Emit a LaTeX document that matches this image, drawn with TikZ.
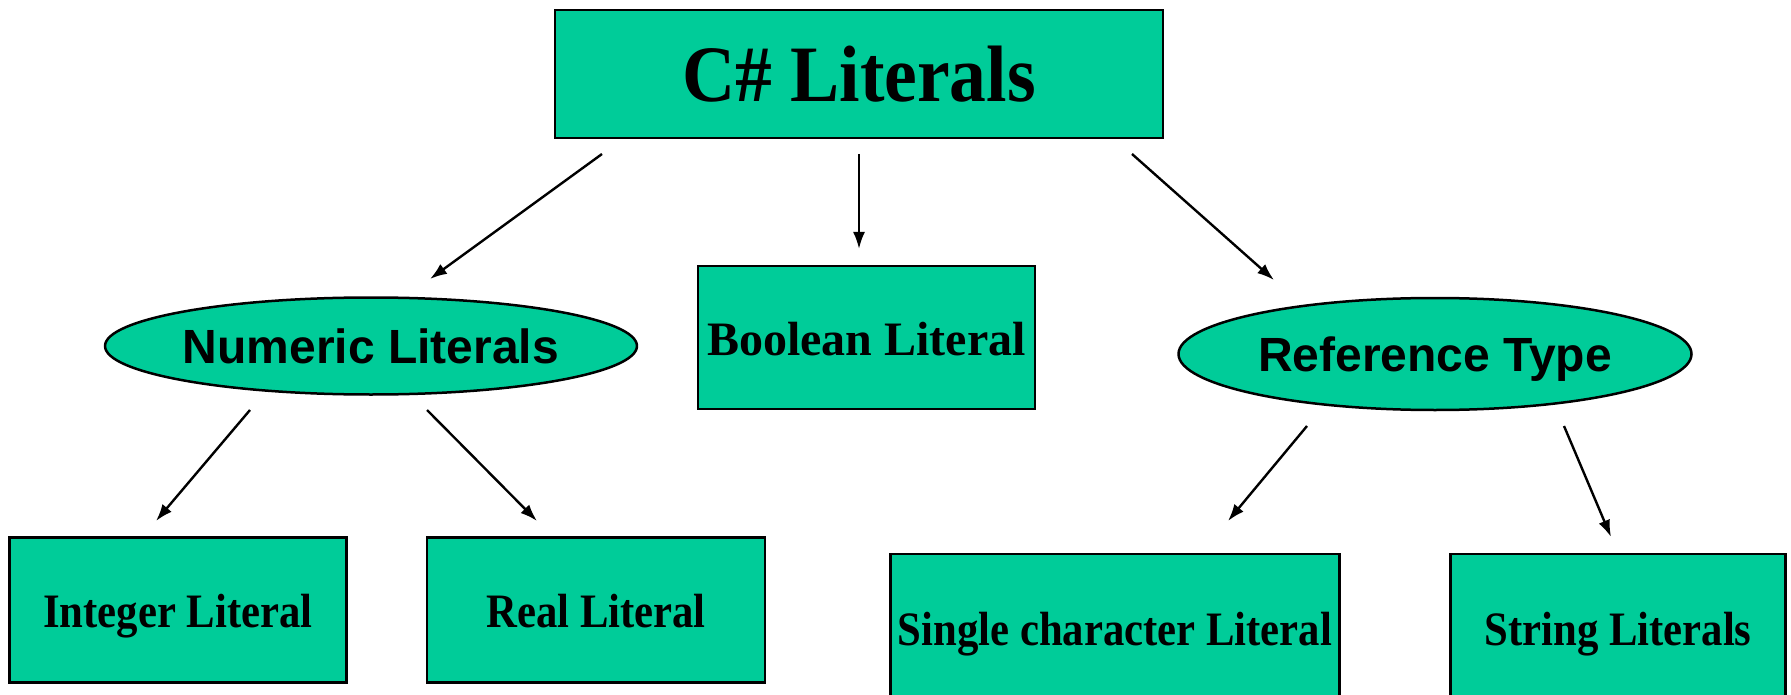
\documentclass[tikz,border=0pt]{standalone}
\usepackage{fontspec}
\setmainfont{Liberation Serif}
\newfontfamily\serifc[FakeStretch=0.89]{Liberation Serif}
\newfontfamily\seriftitle[FakeStretch=0.92]{Liberation Serif}
\newfontfamily\sanslab{Liberation Sans}
\usetikzlibrary{shapes.geometric,arrows.meta}
\definecolor{tealfill}{RGB}{0,204,153}
\tikzset{
  box/.style={draw=black, line width=2.5pt, fill=tealfill, rectangle, inner sep=0pt},
  oval/.style={draw=black, line width=2.5pt, fill=tealfill, ellipse, inner sep=0pt},
  arr/.style={line width=2.4pt, -{Latex[length=17pt,width=12pt]}},
  boxtxt/.style={font=\serifc\bfseries\fontsize{48}{56}\selectfont, text height=34pt, text depth=0pt},
  booltxt/.style={font=\bfseries\fontsize{48}{56}\selectfont, text height=36pt, text depth=0pt},
  ovaltxt/.style={font=\sanslab\bfseries\fontsize{48}{56}\selectfont, text height=35pt, text depth=0pt},
}
\begin{document}
\begin{tikzpicture}[x=1pt,y=-1pt]
\useasboundingbox (0,0) rectangle (1791,695);
\clip (0,0) rectangle (1791,695);
\node[box, minimum width=608pt, minimum height=128pt,
      font=\seriftitle\bfseries\fontsize{80}{90}\selectfont] (top) at (859,74) {C\# Literals};
\node[oval, ovaltxt, minimum width=529pt, minimum height=97pt] (num) at (371,346) {Numeric Literals};
\node[box, booltxt, minimum width=337pt, minimum height=143pt] (bool) at (866.5,337.5) {Boolean Literal};
\node[oval, ovaltxt, minimum width=513pt, minimum height=112pt] (ref) at (1435,354) {Reference Type};
\node[box, boxtxt, minimum width=337pt, minimum height=145pt] (int) at (178,610) {Integer Literal};
\node[box, boxtxt, minimum width=338pt, minimum height=145pt] (real) at (596,610) {Real Literal};
\node[box, boxtxt, minimum width=449pt, minimum height=148pt] (single) at (1115,628) {Single character Literal};
\node[box, boxtxt, minimum width=335pt, minimum height=148pt] (string) at (1618,628) {String Literals};

\coordinate (top-a) at (602,154);  \coordinate (num-in) at (430,279);
\coordinate (top-b) at (859,154);  \coordinate (bool-in) at (859,249);
\coordinate (top-c) at (1132,154); \coordinate (ref-in) at (1274,280);
\coordinate (num-a) at (250,410);  \coordinate (int-in) at (156,521);
\coordinate (num-b) at (427,410);  \coordinate (real-in) at (537,521);
\coordinate (ref-a) at (1307,426); \coordinate (single-in) at (1228,521);
\coordinate (ref-b) at (1564,426); \coordinate (string-in) at (1611,537);

\draw[arr] (top-a) -- (num-in);
\draw[arr] (top-b) -- (bool-in);
\draw[arr] (top-c) -- (ref-in);
\draw[arr] (num-a) -- (int-in);
\draw[arr] (num-b) -- (real-in);
\draw[arr] (ref-a) -- (single-in);
\draw[arr] (ref-b) -- (string-in);
\end{tikzpicture}
\end{document}
